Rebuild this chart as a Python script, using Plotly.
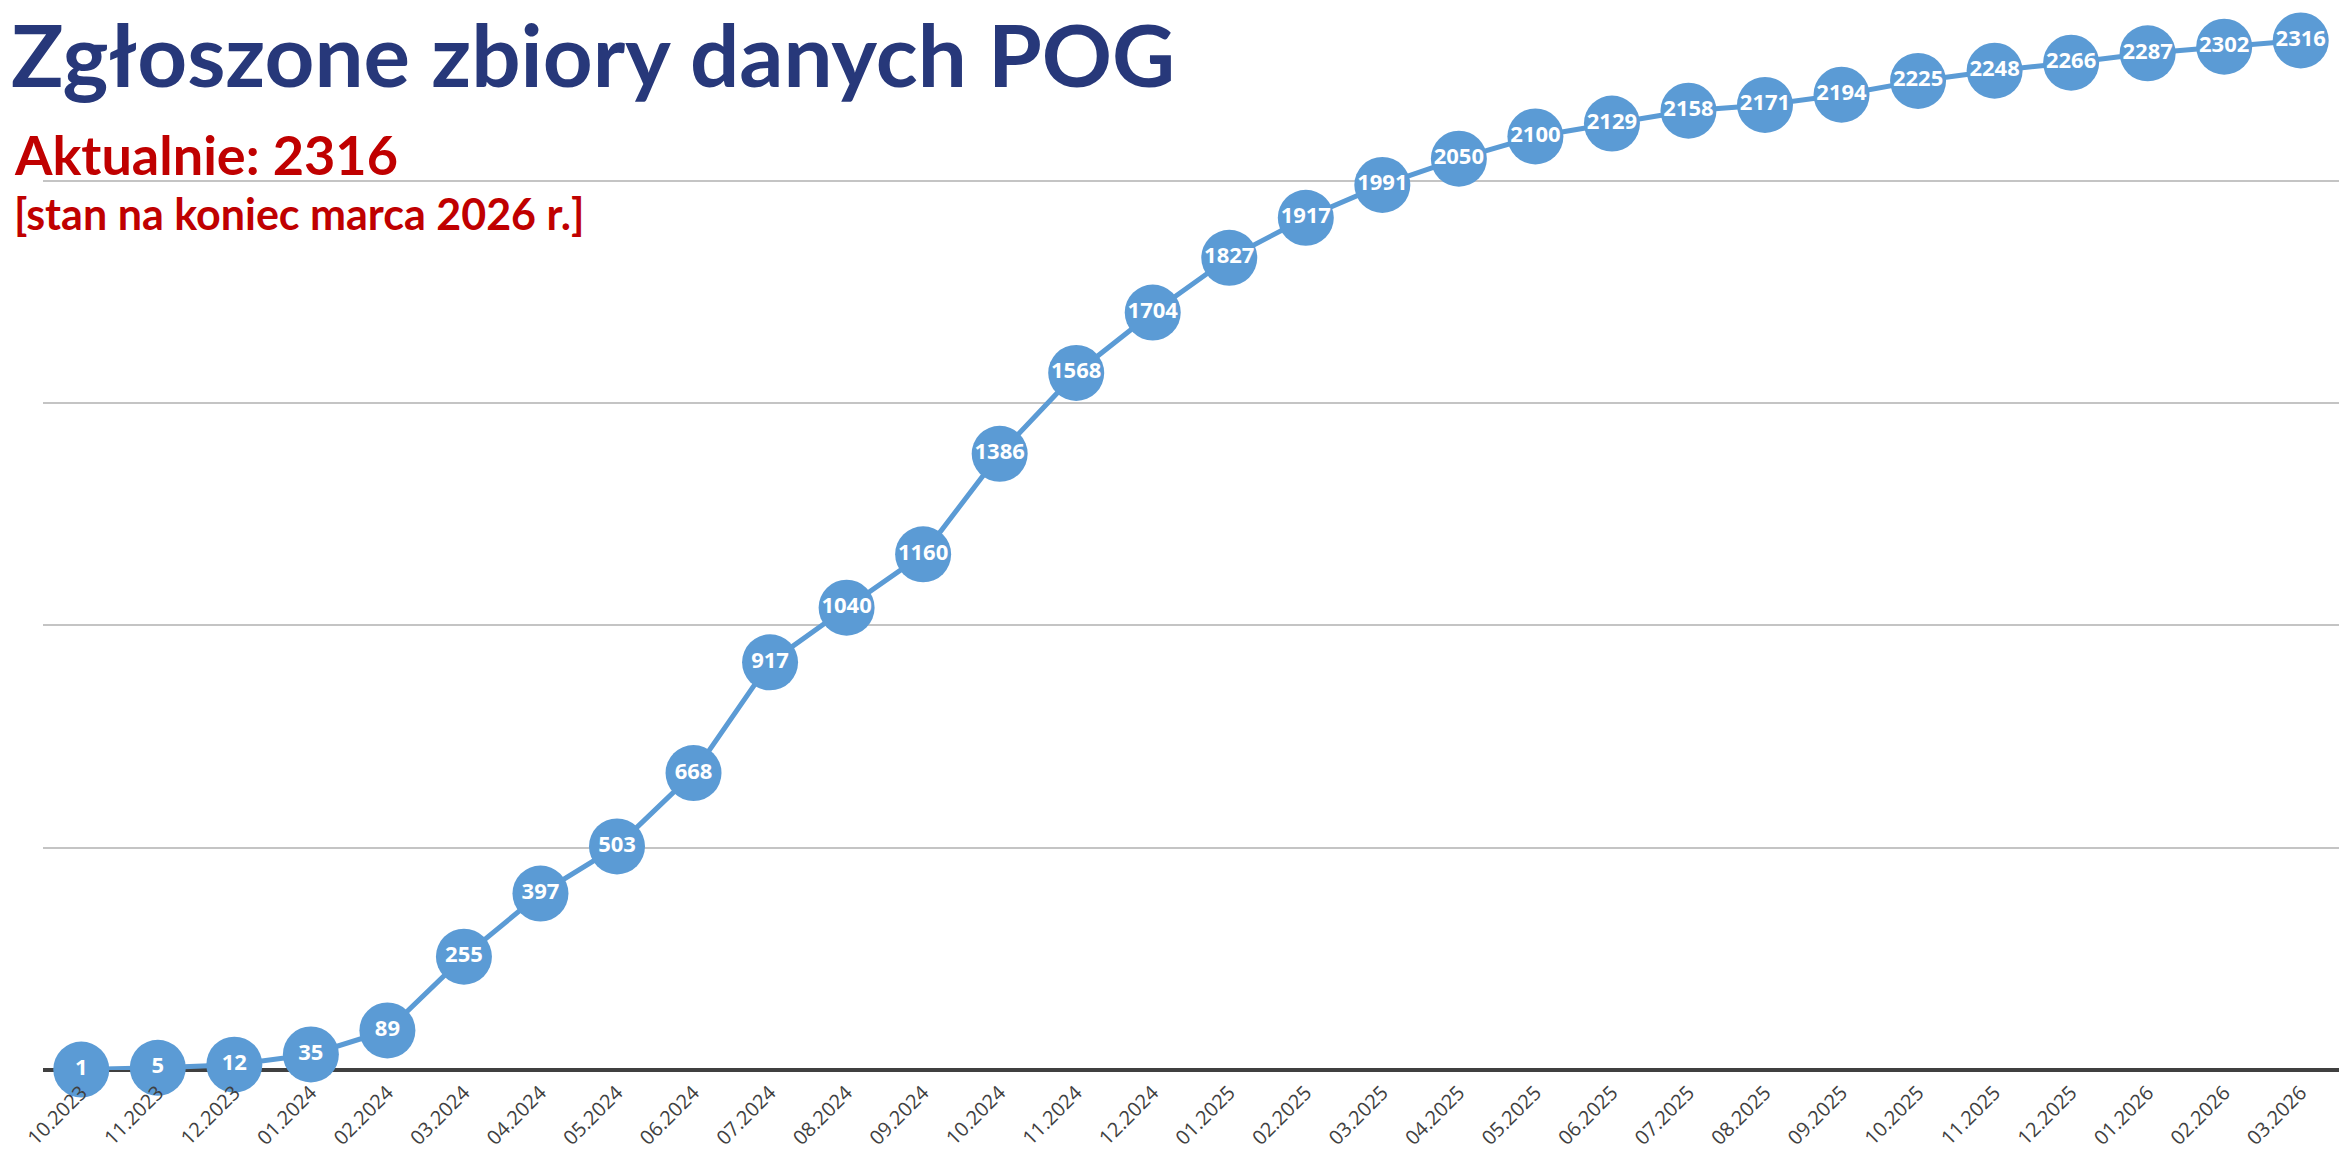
import plotly.graph_objects as go

months = ["10.2023", "11.2023", "12.2023", "01.2024", "02.2024", "03.2024", "04.2024", "05.2024",
          "06.2024", "07.2024", "08.2024", "09.2024", "10.2024", "11.2024", "12.2024", "01.2025",
          "02.2025", "03.2025", "04.2025", "05.2025", "06.2025", "07.2025", "08.2025", "09.2025",
          "10.2025", "11.2025", "12.2025", "01.2026", "02.2026", "03.2026"]
values = [1, 5, 12, 35, 89, 255, 397, 503, 668, 917, 1040, 1160, 1386, 1568, 1704, 1827,
          1917, 1991, 2050, 2100, 2129, 2158, 2171, 2194, 2225, 2248, 2266, 2287, 2302, 2316]

title_text = "Zgłoszone zbiory danych POG"
current_text = "Aktualnie: 2316"
date_text = "[stan na koniec marca 2026 r.]"

W, H = 2339, 1152
ML, MR, MT, MB = 43, 0, 0, 82
plot_h = H - MT - MB
plot_w = W - ML - MR

def py(p):
    return (plot_h - p) / plot_h

def px_(x):
    return (x - ML) / plot_w

fig = go.Figure()
fig.add_trace(go.Scatter(
    x=months, y=values,
    mode="lines+markers+text",
    line=dict(color="#5B9BD5", width=5),
    marker=dict(color="#5B9BD5", size=56, line=dict(width=0)),
    text=[str(v) for v in values],
    textposition="middle center",
    textfont=dict(family="Open Sans", size=22, color="white", weight="bold"),
    cliponaxis=False,
    hoverinfo="skip",
))

fig.update_layout(
    width=W, height=H,
    margin=dict(l=ML, r=MR, t=MT, b=MB, autoexpand=False),
    paper_bgcolor="white", plot_bgcolor="white",
    showlegend=False,
    xaxis=dict(type="category", range=[-0.5, len(months) - 0.5],
               showgrid=False, zeroline=False, showline=False, ticks="",
               tickangle=-45, ticklabelstandoff=6, automargin=False,
               tickfont=dict(family="Open Sans", size=20, color="#404040")),
    yaxis=dict(range=[0, 2407], dtick=500, showticklabels=False, ticks="",
               showgrid=True, gridcolor="#C4C4C4", gridwidth=1.5,
               zeroline=True, zerolinecolor="#404040", zerolinewidth=3.5,
               showline=False, automargin=False),
    annotations=[
        dict(text=title_text, xref="paper", yref="paper", x=px_(10), y=py(53),
             xanchor="left", yanchor="middle", showarrow=False, borderpad=0,
             font=dict(family="Lato", size=87, color="#27387A", weight="bold")),
        dict(text=current_text, xref="paper", yref="paper", x=px_(12), y=py(155),
             xanchor="left", yanchor="middle", showarrow=False,
             font=dict(family="Lato", size=54, color="#C00000", weight="bold")),
        dict(text=date_text, xref="paper", yref="paper", x=px_(12), y=py(213),
             xanchor="left", yanchor="middle", showarrow=False,
             font=dict(family="Lato", size=43, color="#C00000", weight="bold")),
    ],
)

fig.write_html("out.html", config={"displayModeBar": False},
               post_script="document.body.style.margin='0';document.body.style.overflow='hidden';")
